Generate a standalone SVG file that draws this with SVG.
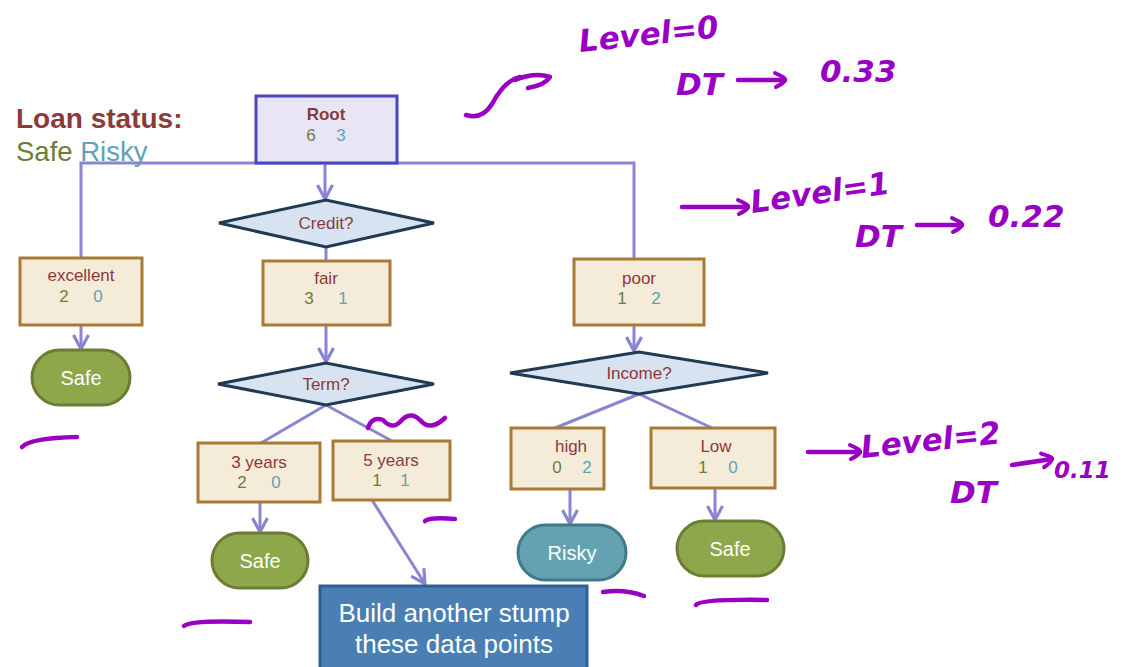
<svg xmlns="http://www.w3.org/2000/svg" width="1125" height="667" viewBox="0 0 1125 667">
  <defs>
    <marker id="arr" viewBox="0 0 18 18" refX="16" refY="9" markerWidth="18" markerHeight="18" markerUnits="userSpaceOnUse" orient="auto">
      <path d="M2,1.5 L16,9 L2,16.5" fill="none" stroke="#8a85d3" stroke-width="3.2" stroke-linejoin="miter"/>
    </marker>
    <marker id="penarr" viewBox="0 0 20 20" refX="15" refY="10" markerWidth="20" markerHeight="20" markerUnits="userSpaceOnUse" orient="auto">
      <path d="M5,3 Q16,8 15,10 Q14,13 6,17" fill="none" stroke="#9a00c4" stroke-width="4" stroke-linecap="round"/>
    </marker>
  </defs>
  <style>
    .box { fill: #f5ebd9; stroke: #a87a35; stroke-width: 3; }
    .dia { fill: #d7e3f1; stroke: #1f3a52; stroke-width: 3; stroke-linejoin: miter; }
    .lbl { font-family: "Liberation Sans", Arial, sans-serif; font-size: 17px; fill: #8b3a3a; text-anchor: middle; }
    .g { font-family: "Liberation Sans", Arial, sans-serif; font-size: 17px; fill: #6b7d3a; text-anchor: middle; }
    .r { font-family: "Liberation Sans", Arial, sans-serif; font-size: 17px; fill: #5fa3b5; text-anchor: middle; }
    .leaf { font-family: "Liberation Sans", Arial, sans-serif; font-size: 20px; fill: #ffffff; text-anchor: middle; }
    .big { font-size: 26px; }
    .safe { fill: #8ea74b; stroke: #6b7d35; stroke-width: 3; }
    .risky { fill: #64a2b2; stroke: #3e7a8a; stroke-width: 3; }
    .edge { fill: none; stroke: #8a85d3; stroke-width: 3; }
    .pen { fill: none; stroke: #9a00c4; stroke-width: 4.5; stroke-linecap: round; stroke-linejoin: round; }
    .hand { font-family: "DejaVu Sans", sans-serif; font-weight: bold; font-style: italic; fill: #9a00c4; }
  </style>

  <rect width="1125" height="667" fill="#ffffff"/>

  <!-- legend -->
  <g id="legend">
    <text x="16" y="128" font-family="Liberation Sans, Arial, sans-serif" font-size="28" font-weight="bold" fill="#8b3a3a">Loan status:</text>
    <text x="16" y="161" font-family="Liberation Sans, Arial, sans-serif" font-size="27.5"><tspan fill="#6b7d3a">Safe </tspan><tspan fill="#5fa3b5">Risky</tspan></text>
  </g>

  <!-- connectors -->
  <g id="connectors">
    <path class="edge" d="M81,258 V163 H634 V259"/>
    <path class="edge" d="M325,163 V199" marker-end="url(#arr)"/>
    <path class="edge" d="M326,247 V261"/>
    <path class="edge" d="M326,325 V362" marker-end="url(#arr)"/>
    <path class="edge" d="M81,325 V349" marker-end="url(#arr)"/>
    <path class="edge" d="M326,405 L261,443"/>
    <path class="edge" d="M326,405 L392,441"/>
    <path class="edge" d="M260,502 V532" marker-end="url(#arr)"/>
    <path class="edge" d="M372,500 L425,584" marker-end="url(#arr)"/>
    <path class="edge" d="M634,325 V351" marker-end="url(#arr)"/>
    <path class="edge" d="M639,394 L555,428"/>
    <path class="edge" d="M639,394 L712,428"/>
    <path class="edge" d="M570,489 V524" marker-end="url(#arr)"/>
    <path class="edge" d="M715,488 V520" marker-end="url(#arr)"/>
  </g>

  <!-- tree nodes -->
  <g id="root">
    <rect x="256" y="96" width="141" height="67" fill="#e8e6f5" stroke="#4b45c0" stroke-width="3"/>
    <text class="lbl" x="326" y="120" font-weight="bold">Root</text>
    <text class="g" x="311" y="141">6</text>
    <text class="r" x="341" y="141">3</text>
  </g>

  <g id="credit">
    <polygon class="dia" points="219,223 326,200 434,223 326,247"/>
    <text class="lbl" x="326" y="229">Credit?</text>
  </g>

  <g id="excellent">
    <rect class="box" x="20" y="258" width="122" height="67"/>
    <text class="lbl" x="81" y="281">excellent</text>
    <text class="g" x="64" y="302">2</text>
    <text class="r" x="98" y="302">0</text>
  </g>

  <g id="fair">
    <rect class="box" x="263" y="261" width="127" height="64"/>
    <text class="lbl" x="326" y="284">fair</text>
    <text class="g" x="309" y="304">3</text>
    <text class="r" x="343" y="304">1</text>
  </g>

  <g id="poor">
    <rect class="box" x="574" y="259" width="130" height="66"/>
    <text class="lbl" x="639" y="284">poor</text>
    <text class="g" x="622" y="304">1</text>
    <text class="r" x="656" y="304">2</text>
  </g>

  <g id="safe-excellent">
    <rect class="safe" x="32" y="350" width="98" height="55" rx="27.5"/>
    <text class="leaf" x="81" y="385">Safe</text>
  </g>

  <g id="term">
    <polygon class="dia" points="218,384 326,363 434,384 326,405"/>
    <text class="lbl" x="326" y="390">Term?</text>
  </g>

  <g id="income">
    <polygon class="dia" points="510,373 639,352 768,373 639,394"/>
    <text class="lbl" x="639" y="379">Income?</text>
  </g>

  <g id="three-years">
    <rect class="box" x="198" y="443" width="122" height="59"/>
    <text class="lbl" x="259" y="468">3 years</text>
    <text class="g" x="242" y="488">2</text>
    <text class="r" x="276" y="488">0</text>
  </g>

  <g id="five-years">
    <rect class="box" x="333" y="441" width="117" height="59"/>
    <text class="lbl" x="391" y="466">5 years</text>
    <text class="g" x="377" y="486">1</text>
    <text class="r" x="405" y="486">1</text>
  </g>

  <g id="high">
    <rect class="box" x="511" y="428" width="93" height="61"/>
    <text class="lbl" x="571" y="452">high</text>
    <text class="g" x="557" y="473">0</text>
    <text class="r" x="587" y="473">2</text>
  </g>

  <g id="low">
    <rect class="box" x="651" y="428" width="124" height="60"/>
    <text class="lbl" x="716" y="452">Low</text>
    <text class="g" x="703" y="473">1</text>
    <text class="r" x="733" y="473">0</text>
  </g>

  <g id="safe-three-years">
    <rect class="safe" x="212" y="533" width="96" height="55" rx="27.5"/>
    <text class="leaf" x="260" y="568">Safe</text>
  </g>

  <g id="risky-high">
    <rect class="risky" x="518" y="525" width="108" height="55" rx="27.5"/>
    <text class="leaf" x="572" y="560">Risky</text>
  </g>

  <g id="safe-low">
    <rect class="safe" x="677" y="521" width="107" height="55" rx="27.5"/>
    <text class="leaf" x="730" y="556">Safe</text>
  </g>

  <g id="build-stump">
    <rect x="320" y="586" width="267" height="84" fill="#4a7fb5" stroke="#2f5f8f" stroke-width="3"/>
    <text class="leaf big" x="454" y="622">Build another stump</text>
    <text class="leaf big" x="454" y="653">these data points</text>
  </g>

  <!-- pen annotations -->
  <g id="annotations">
    <path class="pen" d="M466,115 Q482,120 492,104 Q505,80 520,77" />
    <path class="pen" d="M515,80 Q535,72 550,77 Q545,85 528,88"/>
    <text class="hand" x="580" y="52" font-size="31" transform="rotate(-6 580 52)">Level=0</text>
    <text class="hand" x="676" y="95" font-size="31">DT</text>
    <path class="pen" d="M738,80 H785" marker-end="url(#penarr)"/>
    <text class="hand" x="820" y="82" font-size="31">0.33</text>

    <path class="pen" d="M682,207 H748" marker-end="url(#penarr)"/>
    <text class="hand" x="752" y="213" font-size="31" transform="rotate(-8 752 213)">Level=1</text>
    <text class="hand" x="855" y="247" font-size="31">DT</text>
    <path class="pen" d="M917,225 H962" marker-end="url(#penarr)"/>
    <text class="hand" x="988" y="227" font-size="31">0.22</text>

    <path class="pen" d="M808,452 H860" marker-end="url(#penarr)"/>
    <text class="hand" x="862" y="458" font-size="31" transform="rotate(-6 862 458)">Level=2</text>
    <path class="pen" d="M1012,465 L1052,459" marker-end="url(#penarr)"/>
    <text class="hand" x="1054" y="478" font-size="23">0.11</text>
    <text class="hand" x="950" y="503" font-size="31">DT</text>

    <path class="pen" d="M22,447 Q30,438 77,437"/>
    <path class="pen" d="M184,626 Q190,620 250,622"/>
    <path class="pen" d="M603,592 Q625,589 644,596"/>
    <path class="pen" d="M696,605 Q700,599 767,600"/>
    <path class="pen" d="M425,521 Q430,517 455,519"/>
    <path class="pen" d="M368,428 Q372,416 383,420 Q392,430 400,422 Q410,410 420,420 Q430,432 445,418"/>
  </g>
</svg>
